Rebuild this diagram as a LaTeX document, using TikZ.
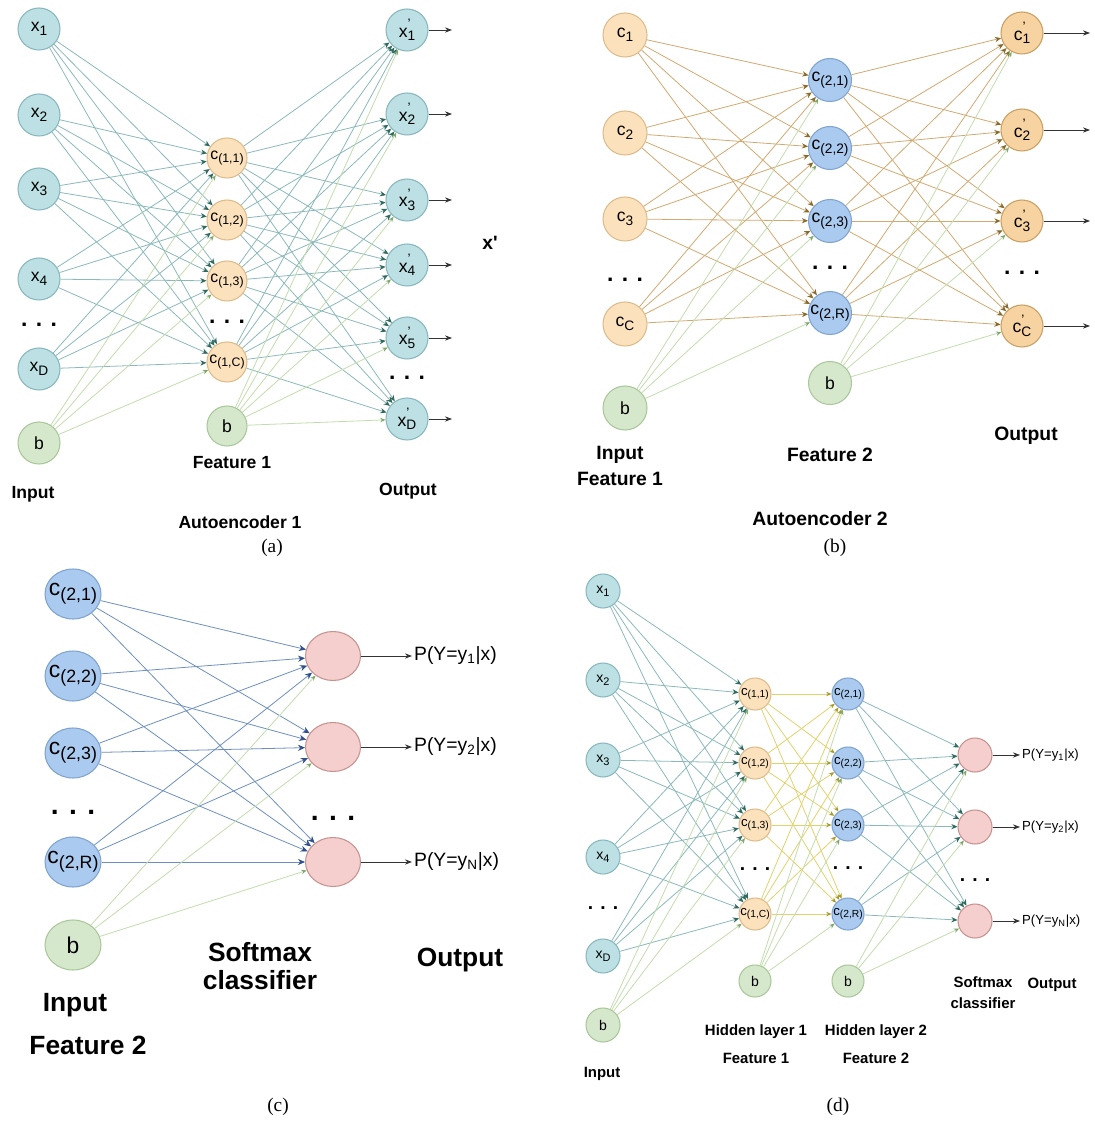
\documentclass[tikz,border=0pt]{standalone}
\usepackage{fontspec}
\usepackage{graphicx}
\setmainfont{Liberation Sans}
\newfontfamily\capfont{Liberation Serif}
\usetikzlibrary{arrows.meta, shapes.geometric}

\definecolor{tealfill}{HTML}{BCE0E3}
\definecolor{tealdraw}{HTML}{88B8BD}
\definecolor{orangefill}{HTML}{FBE2BD}
\definecolor{orangedraw}{HTML}{DDBC8C}
\definecolor{outfill}{HTML}{F6D3A0}
\definecolor{outdraw}{HTML}{C9A063}
\definecolor{bluefill}{HTML}{AACBEF}
\definecolor{bluedraw}{HTML}{7FA3CF}
\definecolor{greenfill}{HTML}{D6E8CB}
\definecolor{greendraw}{HTML}{A9C79B}
\definecolor{pinkfill}{HTML}{F5CFCD}
\definecolor{pinkdraw}{HTML}{C69391}
\definecolor{tealline}{HTML}{8BB9BA}
\definecolor{tealtip}{HTML}{2F6A5E}
\definecolor{orangeline}{HTML}{D2A970}
\definecolor{orangetip}{HTML}{8A6A2A}
\definecolor{blueline}{HTML}{6D8FBF}
\definecolor{bluetip}{HTML}{2F4F8F}
\definecolor{biasline}{HTML}{C3DDAE}
\definecolor{biastip}{HTML}{7FA86A}
\definecolor{yellowline}{HTML}{E2D26C}
\definecolor{yellowtip}{HTML}{A89A2A}

\newcommand{\nsub}[2]{\makebox[0pt]{#1\raisebox{-0.4ex}{\scalebox{0.78}{#2}}}}
\newcommand{\nprime}[2]{\makebox[0pt]{#1\rlap{\raisebox{0.9ex}{\scalebox{0.78}{'}}}\raisebox{-0.4ex}{\scalebox{0.78}{#2}}}}

\begin{document}
\begin{tikzpicture}[x=0.02cm, y=-0.02cm,
    neuron/.style={circle, draw, line width=0.6pt, inner sep=0pt},
    tealnode/.style={neuron, fill=tealfill, draw=tealdraw},
    orangenode/.style={neuron, fill=orangefill, draw=orangedraw},
    outnode/.style={neuron, fill=outfill, draw=outdraw},
    bluenode/.style={neuron, fill=bluefill, draw=bluedraw},
    biasnode/.style={neuron, fill=greenfill, draw=greendraw},
    softnode/.style={neuron, fill=pinkfill, draw=pinkdraw},
    link/.style={line width=0.45pt},
    teallink/.style={link, draw=tealline, -{Stealth[length=3.5pt, width=3pt, color=tealtip]}},
    orangelink/.style={link, draw=orangeline, -{Stealth[length=3.5pt, width=3pt, color=orangetip]}},
    bluelink/.style={link, draw=blueline, -{Stealth[length=4pt, width=3.5pt, color=bluetip]}},
    yellowlink/.style={link, draw=yellowline, -{Stealth[length=3pt, width=2.5pt, color=yellowtip]}},
    biaslink/.style={link, draw=biasline, -{Stealth[length=3pt, width=2.5pt, color=biastip]}},
    outarrow/.style={line width=0.5pt, draw=black!80, -{Stealth[length=4pt, width=3pt]}},
    heading/.style 2 args={font=\bfseries\fontsize{#1}{#2}\selectfont, align=center},
    dotrow/.style={font=\bfseries\fontsize{#1}{#1}\selectfont},
    caption/.style={font=\capfont\fontsize{11}{13}\selectfont}]
\fill[white] (0,0) rectangle (1094,1124);
\useasboundingbox (0,0) rectangle (1094,1124);

% (a)
\foreach \nm/\yy in {1/29, 2/115, 3/189, 4/279, D/369}
    \node[tealnode, minimum size=0.84cm, font=\fontsize{10}{12}\selectfont] (a-x\nm) at (39,\yy) {\nsub{x}{\nm}};
\node[biasnode, minimum size=0.84cm, font=\fontsize{10}{12}\selectfont] (a-b1) at (39,443) {b};
\node[dotrow=13] (a-d1) at (39,325) {. . .};
\foreach \nm/\yy/\txt in {1/158/{(1,1)}, 2/220/{(1,2)}, 3/281/{(1,3)}, C/362/{(1,C)}}
    \node[orangenode, minimum size=0.8cm, font=\fontsize{9}{11}\selectfont] (a-h\nm) at (227,\yy) {\nsub{c}{\txt}};
\node[biasnode, minimum size=0.8cm, font=\fontsize{10}{12}\selectfont] (a-b2) at (227,426) {b};
\node[dotrow=13] (a-d2) at (227,322) {. . .};
\foreach \nm/\yy in {1/30, 2/114, 3/200, 4/265, 5/338, D/419} {
    \node[tealnode, minimum size=0.84cm, font=\fontsize{10}{12}\selectfont] (a-o\nm) at (407,\yy) {\nprime{x}{\nm}};
    \coordinate (a-e\nm) at (452,\yy);
    \draw[outarrow] (a-o\nm) -- (a-e\nm);
}
\node[dotrow=13] (a-d3) at (407,378) {. . .};
\foreach \src in {1,2,3,4,D}
    \foreach \dst in {1,2,3,C}
        \draw[teallink] (a-x\src) -- (a-h\dst);
\foreach \dst in {1,2,3,C}
    \draw[biaslink] (a-b1) -- (a-h\dst);
\foreach \src in {1,2,3,C}
    \foreach \dst in {1,2,3,4,5,D}
        \draw[teallink] (a-h\src) -- (a-o\dst);
\foreach \dst in {1,2,3,4,5,D}
    \draw[biaslink] (a-b2) -- (a-o\dst);
\node[heading={11}{13}] (a-xp) at (490,243) {x\textquotesingle};
\node[heading={10}{12}] (a-feat) at (232,463) {Feature 1};
\node[heading={10}{12}] (a-in) at (33,494) {Input};
\node[heading={10}{12}] (a-out) at (408,491) {Output};
\node[heading={10}{12}] (a-title) at (240,522) {Autoencoder 1};
\node[caption] (a-cap) at (272,548) {(a)};

% (b)
\foreach \nm/\yy in {1/35, 2/133, 3/219, C/324}
    \node[orangenode, minimum size=0.88cm, font=\fontsize{10}{12}\selectfont] (b-i\nm) at (625,\yy) {\nsub{c}{\nm}};
\node[biasnode, minimum size=0.88cm, font=\fontsize{10}{12}\selectfont] (b-b1) at (625,408) {b};
\node[dotrow=13] (b-d1) at (625,280) {. . .};
\foreach \nm/\yy in {1/80, 2/148, 3/221, R/313}
    \node[bluenode, minimum size=0.86cm, font=\fontsize{10}{12}\selectfont] (b-h\nm) at (830,\yy) {\nsub{c}{(2,\nm)}};
\node[biasnode, minimum size=0.86cm, font=\fontsize{10}{12}\selectfont] (b-b2) at (830,383) {b};
\node[dotrow=13] (b-d2) at (830,268) {. . .};
\foreach \nm/\yy in {1/33, 2/130, 3/221, C/326} {
    \node[outnode, minimum size=0.84cm, font=\fontsize{10}{12}\selectfont] (b-o\nm) at (1022,\yy) {\nprime{c}{\nm}};
    \coordinate (b-e\nm) at (1090,\yy);
    \draw[outarrow] (b-o\nm) -- (b-e\nm);
}
\node[dotrow=13] (b-d3) at (1022,273) {. . .};
\foreach \src in {1,2,3,C}
    \foreach \dst in {1,2,3,R}
        \draw[orangelink] (b-i\src) -- (b-h\dst);
\foreach \dst in {1,2,3,R}
    \draw[biaslink] (b-b1) -- (b-h\dst);
\foreach \src in {1,2,3,R}
    \foreach \dst in {1,2,3,C}
        \draw[orangelink] (b-h\src) -- (b-o\dst);
\foreach \dst in {1,2,3,C}
    \draw[biaslink] (b-b2) -- (b-o\dst);
\node[heading={11}{15}] (b-in) at (620,466) {Input\\Feature 1};
\node[heading={11}{13}] (b-feat) at (830,455) {Feature 2};
\node[heading={11}{13}] (b-out) at (1026,436) {Output};
\node[heading={11}{13}] (b-title) at (820,519) {Autoencoder 2};
\node[caption] (b-cap) at (835,548) {(b)};

% (c)
\foreach \nm/\yy in {1/594, 2/676, 3/753, R/862}
    \node[bluenode, ellipse, minimum width=1.12cm, minimum height=1.0cm, font=\fontsize{13}{15}\selectfont] (c-h\nm) at (73,\yy) {\nsub{c}{(2,\nm)}};
\node[biasnode, ellipse, minimum width=1.12cm, minimum height=1.0cm, font=\fontsize{13}{15}\selectfont] (c-b1) at (73,945) {b};
\node[dotrow=16] (c-d1) at (73,812) {. . .};
\foreach \nm/\yy in {1/656, 2/747, N/862} {
    \node[softnode, ellipse, minimum width=1.1cm, minimum height=0.98cm] (c-s\nm) at (333,\yy) {};
    \node[anchor=west, inner sep=1pt, font=\fontsize{11}{13}\selectfont] (c-p\nm) at (412,\yy) {P(Y=y\textsubscript{\nm}|x)};
    \draw[outarrow] (c-s\nm) -- (c-p\nm);
}
\node[dotrow=16] (c-d2) at (333,818) {. . .};
\foreach \src in {1,2,3,R}
    \foreach \dst in {1,2,N}
        \draw[bluelink] (c-h\src) -- (c-s\dst);
\foreach \dst in {1,2,N}
    \draw[biaslink] (c-b1) -- (c-s\dst);
\node[heading={15}{16}] (c-soft) at (260,966) {Softmax\\classifier};
\node[heading={15}{17}] (c-out) at (460,960) {Output};
\node[heading={15}{17}] (c-in) at (75,1005) {Input};
\node[heading={15}{17}] (c-feat) at (88,1045) {Feature 2};
\node[caption] (c-cap) at (278,1107) {(c)};

% (d)
\foreach \nm/\yy in {1/591, 2/680, 3/760, 4/857, D/956}
    \node[tealnode, minimum size=0.68cm, font=\fontsize{8}{10}\selectfont] (d-x\nm) at (603,\yy) {\nsub{x}{\nm}};
\node[biasnode, minimum size=0.68cm, font=\fontsize{8}{10}\selectfont] (d-b1) at (603,1025) {b};
\node[dotrow=11] (d-d1) at (603,908) {. . .};
\foreach \nm/\yy/\txt in {1/694/{(1,1)}, 2/763/{(1,2)}, 3/825/{(1,3)}, C/914/{(1,C)}}
    \node[orangenode, minimum size=0.64cm, font=\fontsize{7.5}{9}\selectfont] (d-h\nm) at (755,\yy) {\nsub{c}{\txt}};
\node[biasnode, minimum size=0.64cm, font=\fontsize{8}{10}\selectfont] (d-b2) at (755,981) {b};
\node[dotrow=11] (d-d2) at (755,869) {. . .};
\foreach \nm/\yy/\txt in {1/694/{(2,1)}, 2/763/{(2,2)}, 3/825/{(2,3)}, R/914/{(2,R)}}
    \node[bluenode, minimum size=0.64cm, font=\fontsize{7.5}{9}\selectfont] (d-g\nm) at (848,\yy) {\nsub{c}{\txt}};
\node[biasnode, minimum size=0.64cm, font=\fontsize{8}{10}\selectfont] (d-b3) at (848,981) {b};
\node[dotrow=11] (d-d3) at (848,868) {. . .};
\foreach \nm/\yy in {1/755, 2/827, N/921} {
    \node[softnode, minimum size=0.68cm] (d-s\nm) at (975,\yy) {};
    \node[anchor=west, inner sep=1pt, font=\fontsize{7.5}{9}\selectfont] (d-p\nm) at (1020,\yy) {P(Y=y\textsubscript{\nm}|x)};
    \draw[outarrow] (d-s\nm) -- (d-p\nm);
}
\node[dotrow=11] (d-d4) at (975,880) {. . .};
\foreach \src in {1,2,3,4,D}
    \foreach \dst in {1,2,3,C}
        \draw[teallink] (d-x\src) -- (d-h\dst);
\foreach \dst in {1,2,3,C}
    \draw[biaslink] (d-b1) -- (d-h\dst);
\foreach \src in {1,2,3,C}
    \foreach \dst in {1,2,3,R}
        \draw[yellowlink] (d-h\src) -- (d-g\dst);
\foreach \dst in {1,2,3,R}
    \draw[biaslink] (d-b2) -- (d-g\dst);
\foreach \src in {1,2,3,R}
    \foreach \dst in {1,2,N}
        \draw[teallink] (d-g\src) -- (d-s\dst);
\foreach \dst in {1,2,N}
    \draw[biaslink] (d-b3) -- (d-s\dst);
\node[heading={8.5}{12}] (d-soft) at (983,993) {Softmax\\classifier};
\node[heading={8.5}{10}] (d-out) at (1052,985) {Output};
\node[heading={8.5}{16}] (d-hid1) at (756,1044) {Hidden layer 1\\Feature 1};
\node[heading={8.5}{16}] (d-hid2) at (876,1044) {Hidden layer 2\\Feature 2};
\node[heading={8.5}{10}] (d-in) at (602,1074) {Input};
\node[caption] (d-cap) at (838,1107) {(d)};
\end{tikzpicture}
\end{document}
